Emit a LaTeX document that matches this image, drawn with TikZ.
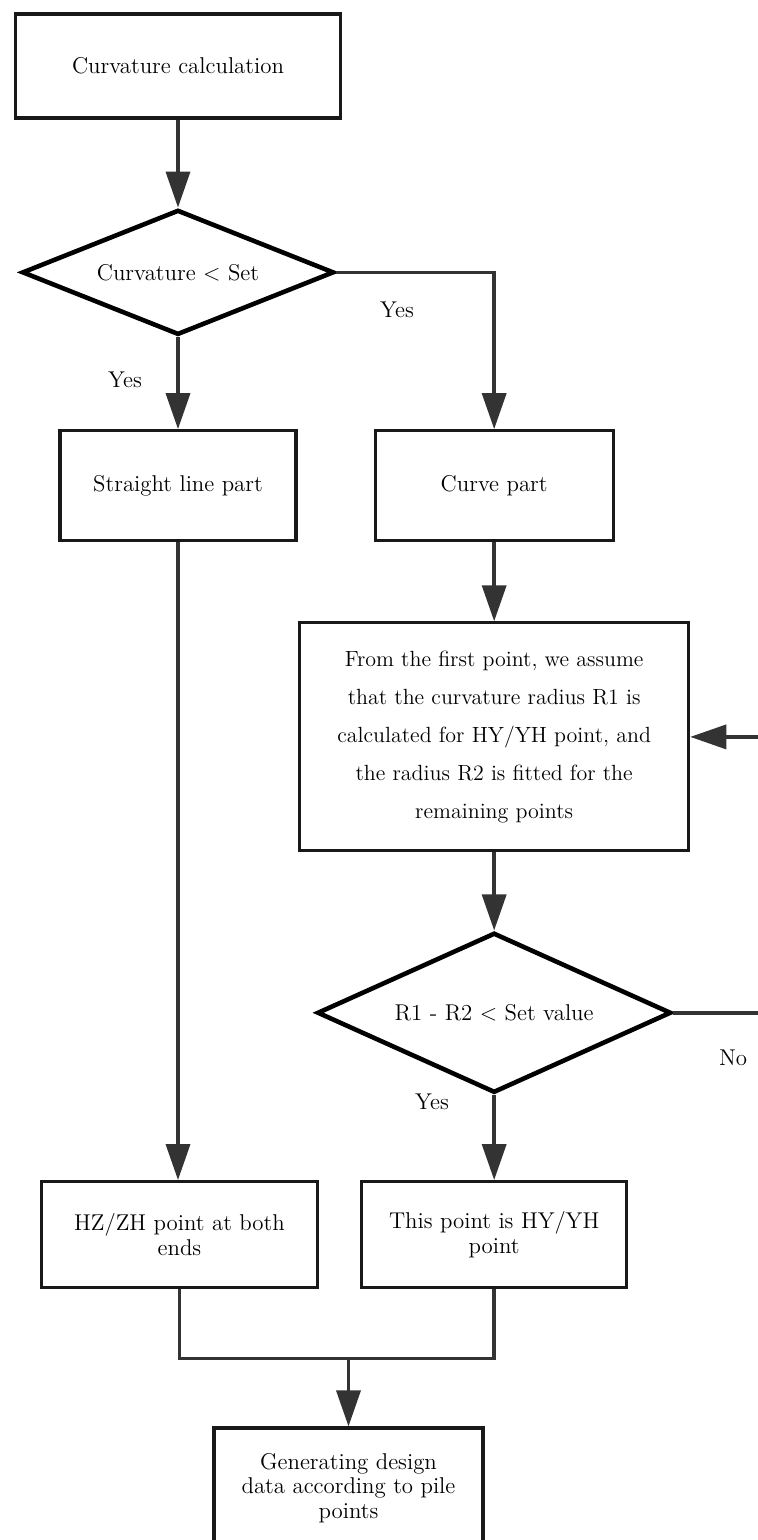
\documentclass[tikz,border=0pt]{standalone}
\usepackage{tikz}
\usetikzlibrary{positioning,shapes.geometric,arrows.meta}

\tikzset{
   txt/.style={font=\fontsize{13}{14}\selectfont},
   box/.style={draw=black!90, line width=1.8pt, align=center, inner sep=0pt, txt},
   decision/.style={diamond, draw=black, line width=2.6pt, align=center, inner sep=0pt, aspect=2.5, txt},
   link/.style={draw=black!80, line width=2pt},
   flow/.style={link, -{Triangle[length=0.72cm,width=0.48cm]}},
}

\begin{document}
\begin{tikzpicture}
      \useasboundingbox (0,0) rectangle (15.14,-30.8);
      \node[box, minimum width=6.5cm, minimum height=2.08cm] (calc) at (3.56,-1.32) {Curvature calculation};
      \node[decision, minimum width=6.24cm, minimum height=2.5cm, below=1.76cm of calc] (dec1) {Curvature \textless{} Set};
      \node[box, minimum width=4.72cm, minimum height=2.2cm, below=1.84cm of dec1] (straight) {Straight line part};
      \node[box, minimum width=4.76cm, minimum height=2.2cm, right=1.52cm of straight] (curve) {Curve part};
      \node[box, minimum width=7.78cm, minimum height=4.56cm, below=1.58cm of curve,
            font=\fontsize{12.5}{21.6}\selectfont] (fit) {From the first point, we assume\\that the curvature radius R1 is\\calculated for HY/YH point, and\\the radius R2 is fitted for the\\remaining points};
      \node[decision, aspect=2.2, minimum width=7.08cm, minimum height=3.2cm, below=1.56cm of fit] (dec2) {R1 - R2 \textless{} Set value};
      \node[box, minimum width=5.3cm, minimum height=2.12cm, below=1.7cm of dec2] (hy) {This point is HY/YH\\point};
      \node[box, minimum width=5.52cm, minimum height=2.12cm, left=0.82cm of hy] (hz) {HZ/ZH point at both\\ends};
      \node[box, minimum width=5.38cm, minimum height=2.4cm] (gen) at (6.97,-29.76) {Generating design\\data according to pile\\points};
      \coordinate[above=1.36cm of gen.north] (join);
      \coordinate[right=2.3cm of dec2.east] (back);

      \node[txt] (yes1) at (7.94,-6.2) {Yes};
      \node[txt] (yes2) at (2.5,-7.6) {Yes};
      \node[txt] (no) at (14.66,-21.16) {No};
      \node[txt] (yes3) at (8.64,-22.04) {Yes};

      \draw[flow] (calc) -- (dec1);
      \draw[flow] (dec1) -- (straight);
      \draw[flow] (dec1.east) -| (curve.north);
      \draw[flow] (curve) -- (fit);
      \draw[flow] (fit) -- (dec2);
      \draw[flow] (dec2) -- (hy);
      \draw[flow] (dec2.east) -- (back) |- (fit.east);
      \draw[flow] (straight.south) -- (straight.south |- hz.north);
      \draw[link] (hz.south) |- (join) -| (hy.south);
      \draw[flow] (join) -- (gen.north);
   \end{tikzpicture}
\end{document}
